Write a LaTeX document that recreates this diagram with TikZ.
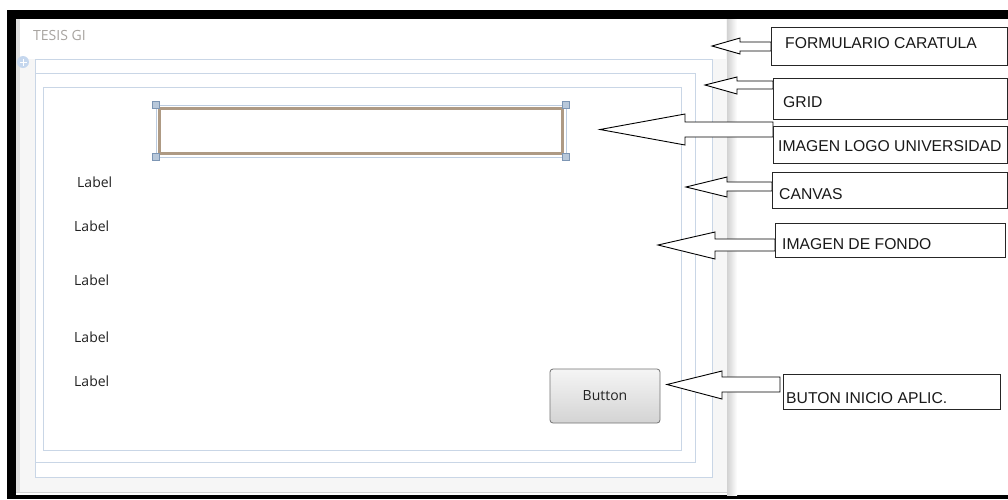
\documentclass[tikz,border=0pt]{standalone}
\usepackage{fontspec}
\setmainfont{Liberation Sans}
\newfontfamily\uifont{Open Sans}
\usetikzlibrary{calc}

\definecolor{paneline}{HTML}{C9D6E6}
\definecolor{logobrown}{HTML}{AE9A84}
\definecolor{handlefill}{HTML}{B8C8DA}
\definecolor{handledraw}{HTML}{7D96B4}
\definecolor{selline}{HTML}{BCCCE0}
\definecolor{titlegray}{HTML}{A8A4A0}
\definecolor{formbg}{HTML}{F6F6F6}
\definecolor{formline}{HTML}{D2D2D2}
\definecolor{uitext}{HTML}{222222}
\definecolor{iconblue}{HTML}{C5D7EE}

\newcommand\blockarrow[7]{%
  \draw[arrowline] (#1 |- 0,#2) -- (#4,#2) -- (#4,#5) -- (#7) -- (#4,#6) -- (#4,#3) -- (#1 |- 0,#3) -- cycle;}

\begin{document}
\begin{tikzpicture}[x=1pt,y=-1pt,
  annotbox/.style={draw=black!85,line width=1.4pt,fill=white,inner sep=0pt,anchor=north west},
  annottext/.style={font=\fontsize{15.7}{18}\selectfont,text=black!90,inner sep=0pt,anchor=west},
  uilabel/.style={font=\uifont\fontsize{14}{16}\selectfont,text=uitext,inner sep=0pt,anchor=west},
  pane/.style={draw=paneline,line width=1pt},
  handle/.style={draw=handledraw,fill=handlefill,line width=0.6pt,minimum size=6.5pt,inner sep=0pt},
  arrowline/.style={draw=black,line width=0.9pt,fill=white,line join=miter},
  btn/.style={draw=black!55,line width=0.8pt,rounded corners=3pt,top color=black!4,bottom color=black!17,
    minimum width=110pt,minimum height=54pt,inner sep=0pt,
    font=\uifont\fontsize{14}{16}\selectfont,text=uitext}]

\useasboundingbox (0,0) rectangle (1008,499);
\fill[white] (0,0) rectangle (1008,499);

% black frame
\fill[black] (7,10) rectangle (1008,19);
\fill[black] (7,10) rectangle (16,499);
\fill[black] (7,495) rectangle (1008,499);

% form window
\fill[formbg] (16,19) rectangle (727,492);
\fill[black!12] (16,19) rectangle (20,492);
\shade[left color=black!18,right color=white] (727,19) rectangle (737,495);
\draw[formline,line width=1pt] (16,492) -- (727,492) -- (727,19);
\fill[white] (20,19) rectangle (726,59);
\node[uilabel,text=titlegray] (title) at (33,35) {TESIS GI};

% move icon
\node[circle,fill=iconblue,minimum size=12pt,inner sep=0pt] (icon) at (23,62) {};
\draw[white,line width=0.8pt] (icon.center) ++(-3.5,0) -- ++(7,0);
\draw[white,line width=0.8pt] (icon.center) ++(0,-3.5) -- ++(0,7);

% panes
\draw[pane,fill=white] (35,59) rectangle (712,477);
\draw[pane] (35,73) rectangle (695,462);
\draw[pane] (43,87) rectangle (681,450);

% logo image placeholder
\draw[selline,line width=0.8pt] (156,105) rectangle (566,157);
\draw[logobrown,line width=2.6pt] (159.5,108.5) rectangle (562.5,153.5);
\node[handle] (h1) at (156,105) {};
\node[handle] (h2) at (156,157) {};
\node[handle] (h3) at (566,105) {};
\node[handle] (h4) at (566,157) {};

% labels
\node[uilabel] (l1) at (77,182) {Label};
\node[uilabel] (l2) at (74,226) {Label};
\node[uilabel] (l3) at (74,280) {Label};
\node[uilabel] (l4) at (74,337) {Label};
\node[uilabel] (l5) at (74,381) {Label};

% button
\node[btn] (btn) at (605,396) {Button};

% annotation boxes
\node[annotbox,minimum width=236pt,minimum height=38pt] (b1) at (771,27) {};
\node[annotbox,minimum width=234pt,minimum height=41pt] (b2) at (773,78) {};
\node[annotbox,minimum width=234pt,minimum height=37pt] (b3) at (773,126) {};
\node[annotbox,minimum width=235pt,minimum height=36pt] (b4) at (772,172) {};
\node[annotbox,minimum width=230pt,minimum height=34pt] (b5) at (775,223) {};
\node[annotbox,minimum width=217pt,minimum height=35pt] (b6) at (783,374) {};

\node[annottext] (t1) at (785,43) {FORMULARIO CARATULA};
\node[annottext] (t2) at (783,102) {GRID};
\node[annottext] (t3) at (778,146) {IMAGEN LOGO UNIVERSIDAD};
\node[annottext] (t4) at (779,194) {CANVAS};
\node[annottext] (t5) at (782,244) {IMAGEN DE FONDO};
\node[annottext] (t6) at (786,398) {BUTON INICIO APLIC.};

% arrow tips
\coordinate (p1) at (712,46);
\coordinate (p2) at (705,85);
\coordinate (p3) at (600,129.5);
\coordinate (p4) at (686,187);
\coordinate (p5) at (658,245);
\coordinate (p6) at (667,384.5);
\coordinate (s6) at ([xshift=-3pt]b6.west);

\blockarrow{b1.west}{42}{51}{740}{38}{54}{p1}
\blockarrow{b2.west}{81}{89}{737}{77}{94}{p2}
\blockarrow{b3.west}{122}{137}{685}{114}{145}{p3}
\blockarrow{b4.west}{182}{191}{727}{177}{197}{p4}
\blockarrow{b5.west}{239}{251}{715}{232}{259}{p5}
\blockarrow{s6}{377}{392}{722}{371}{399}{p6}

\end{tikzpicture}
\end{document}
